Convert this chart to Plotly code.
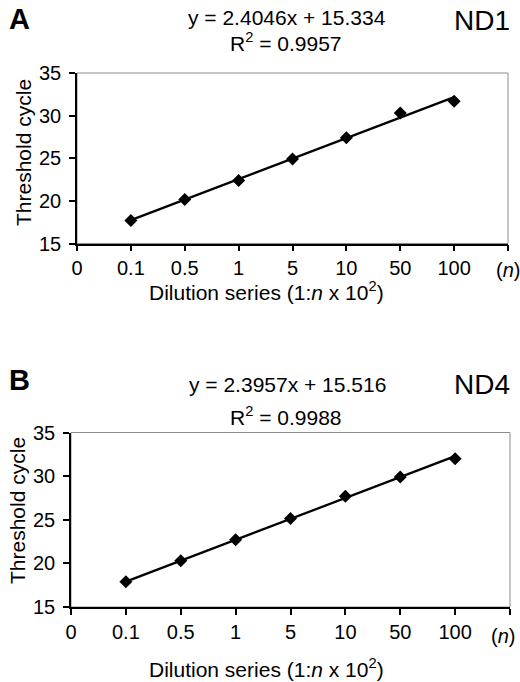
import plotly.graph_objects as go

# ---- data ----
tick_labels = ["0", "0.1", "0.5", "1", "5", "10", "50", "100", ""]
unit_label = "(<i>n</i>)"
dilution_n = ["0.1", "0.5", "1", "5", "10", "50", "100"]
nd1_ct = [17.7, 20.15, 22.4, 24.9, 27.4, 30.3, 31.7]
nd4_ct = [17.9, 20.3, 22.7, 25.15, 27.7, 29.9, 32.0]
nd1_slope, nd1_intercept, nd1_r2 = 2.4046, 15.334, 0.9957
nd4_slope, nd4_intercept, nd4_r2 = 2.3957, 15.516, 0.9988
y_ticks = [15, 20, 25, 30, 35]

FONT = "Arial, Liberation Sans, sans-serif"
W, H = 520, 682

x_pos = [tick_labels.index(c) for c in dilution_n]

fig = go.Figure()

panels = [
    dict(ax="", ct=nd1_ct, slope=nd1_slope, icpt=nd1_intercept, r2=nd1_r2,
         name="ND1", letter="A",
         xdom=(77, 508), ydom=(73, 243.5),
         letter_y=19, eq_y=18, r2_y=42, nd_y=21, ytitle_x=23, ytitle_y=153,
         unit_x=508, unit_y=270, xlab_title_y=291),
    dict(ax="2", ct=nd4_ct, slope=nd4_slope, icpt=nd4_intercept, r2=nd4_r2,
         name="ND4", letter="B",
         xdom=(71, 510), ydom=(432.5, 607),
         letter_y=380, eq_y=384, r2_y=416, nd_y=384, ytitle_x=17, ytitle_y=511,
         unit_x=503, unit_y=636, xlab_title_y=668),
]

annotations = []
shapes = []
for p in panels:
    ax = p["ax"]
    xa, ya = "x" + ax, "y" + ax
    fig.add_trace(go.Scatter(
        x=x_pos, y=p["ct"], mode="markers",
        marker=dict(symbol="diamond", size=10, color="black"),
        xaxis=xa, yaxis=ya, showlegend=False, cliponaxis=False))
    fit_x = [x_pos[0], x_pos[-1]]
    fit_y = [p["slope"] * v + p["icpt"] for v in fit_x]
    fig.add_trace(go.Scatter(
        x=fit_x, y=fit_y, mode="lines",
        line=dict(color="black", width=2.3),
        xaxis=xa, yaxis=ya, showlegend=False))

    x0, x1 = p["xdom"]
    yt, yb = p["ydom"]
    axis_common = dict(showline=True, linecolor="black", linewidth=1.5,
                       ticks="outside", ticklen=6, tickwidth=1.6,
                       tickcolor="#000000", showgrid=False, zeroline=False,
                       automargin=False, ticklabeloverflow="allow",
                       tickfont=dict(family=FONT, size=20, color="black"))
    fig.update_layout(**{
        "xaxis" + ax: dict(domain=[x0 / W, x1 / W], range=[0, 8],
                           tickmode="array",
                           tickvals=list(range(len(tick_labels))),
                           ticktext=tick_labels, anchor=ya, **axis_common),
        "yaxis" + ax: dict(domain=[1 - yb / H, 1 - yt / H], range=[15, 35],
                           tickmode="array",
                           tickvals=y_ticks, anchor=xa, ticklabelstandoff=4,
                           **axis_common),
    })
    shapes.append(dict(type="rect", xref=xa + " domain", yref=ya + " domain",
                       x0=0, x1=1, y0=0, y1=1, layer="below",
                       line=dict(color="#8c8c8c", width=1)))

    def ann(text, x, y, size, bold=False, textangle=0):
        annotations.append(dict(
            text=f"<b>{text}</b>" if bold else text,
            x=x / W, y=1 - y / H, xref="paper", yref="paper",
            showarrow=False, textangle=textangle,
            xanchor="center", yanchor="middle",
            font=dict(family=FONT, size=size, color="black")))

    ann(p["letter"], 19, p["letter_y"], 29, bold=True)
    ann(f"y = {p['slope']:.4f}x + {p['icpt']:.3f}", 287, p["eq_y"], 21)
    ann(f"R<sup>2</sup> = {p['r2']:.4f}", 286, p["r2_y"], 21)
    ann(p["name"], 482, p["nd_y"], 28)
    ann("Threshold cycle", p["ytitle_x"], p["ytitle_y"], 21, textangle=-90)
    ann(unit_label, p["unit_x"], p["unit_y"], 20)
    ann("Dilution series (1:<i>n</i> x 10<sup>2</sup>)", 266, p["xlab_title_y"], 21)

fig.update_layout(
    template="none",
    width=W, height=H,
    margin=dict(l=0, r=0, t=0, b=0, autoexpand=False),
    paper_bgcolor="white", plot_bgcolor="white",
    annotations=annotations, shapes=shapes,
    font=dict(family=FONT, color="black"),
)

fig.write_html(
    "out.html",
    config={"displayModeBar": False},
    post_script="document.body.style.margin='0';document.body.style.overflow='hidden';",
)
